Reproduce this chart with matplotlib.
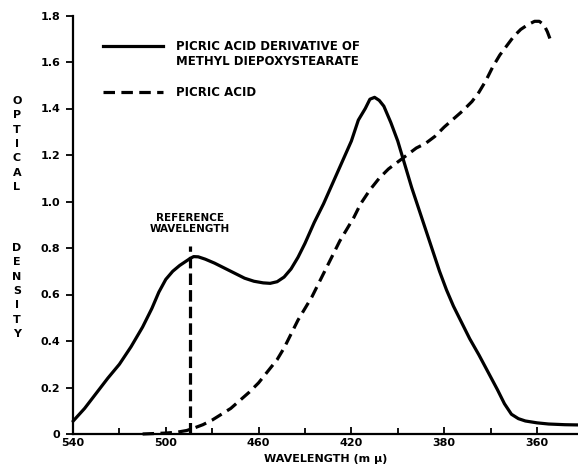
import numpy as np
import matplotlib
matplotlib.use("Agg")
import matplotlib.pyplot as plt
from matplotlib.ticker import FixedLocator, FuncFormatter

# chart positions along the wavelength axis (the axis is printed with 360 where 340 would fall)
deriv_wl = [540, 535, 530, 525, 520, 515, 510, 506, 503, 500, 497, 494, 491, 489.5, 488,
            486, 483, 479, 475, 470, 466, 462, 458, 455, 452, 449, 446, 443, 440, 436,
            432, 428, 424, 420, 417, 414, 412, 410, 408, 406, 403, 400, 397, 394, 391,
            388, 385, 382, 379, 376, 373, 369, 365, 361, 357, 354, 351, 348, 345, 340,
            335, 328, 322.3]
deriv_od = [0.055, 0.11, 0.175, 0.24, 0.30, 0.375, 0.46, 0.54, 0.61, 0.665, 0.70, 0.725,
            0.745, 0.755, 0.763, 0.762, 0.752, 0.735, 0.715, 0.69, 0.67, 0.657, 0.65,
            0.648, 0.655, 0.675, 0.71, 0.76, 0.82, 0.91, 0.99, 1.08, 1.17, 1.26, 1.35,
            1.40, 1.44, 1.448, 1.435, 1.41, 1.34, 1.26, 1.16, 1.06, 0.97, 0.88, 0.79,
            0.70, 0.62, 0.55, 0.49, 0.41, 0.34, 0.265, 0.19, 0.13, 0.085, 0.066, 0.056,
            0.048, 0.043, 0.040, 0.039]

picric_wl = [510, 505, 500, 495, 491, 488, 484, 480, 476, 472, 468, 464, 460, 456, 452,
             449, 446, 443, 440, 437, 434, 431, 428, 425, 422, 419, 416, 412, 408, 404,
             400, 396, 392, 388, 384, 380, 376, 372, 368, 365, 362, 359, 356, 353, 350,
             347, 344, 341, 339, 337, 335.5, 334]
picric_od = [0.0, 0.002, 0.004, 0.008, 0.015, 0.025, 0.04, 0.06, 0.085, 0.11, 0.145,
             0.18, 0.22, 0.27, 0.32, 0.37, 0.43, 0.49, 0.54, 0.59, 0.65, 0.71, 0.77,
             0.83, 0.88, 0.93, 0.99, 1.05, 1.10, 1.14, 1.17, 1.20, 1.23, 1.25, 1.28,
             1.32, 1.355, 1.39, 1.43, 1.47, 1.52, 1.58, 1.63, 1.67, 1.71, 1.74, 1.76,
             1.775, 1.775, 1.76, 1.73, 1.69]

ref_wl = 489.6
ref_top = 0.81

xtick_pos = [540, 500, 460, 420, 380, 340]
xtick_labels = ["540", "500", "460", "420", "380", "360"]
xminor_pos = [520, 480, 440, 400, 360]
yticks = [0, 0.2, 0.4, 0.6, 0.8, 1.0, 1.2, 1.4, 1.6, 1.8]

plt.rcParams['font.family'] = ['DejaVu Sans']
plt.rcParams['font.weight'] = 'bold'

fig = plt.figure(figsize=(5.78, 4.68), dpi=100)
ax = fig.add_axes([73/578, 34/468, 505/578, 418.5/468])

lw = 2.3
ax.plot(deriv_wl, deriv_od, color="black", lw=lw, solid_capstyle="round",
        solid_joinstyle="round", clip_on=False)
ax.plot(picric_wl, picric_od, color="black", lw=lw, dashes=(3.6, 2.0), clip_on=False)
ax.plot([ref_wl, ref_wl], [0, ref_top], color="black", lw=lw, dashes=(3.6, 1.6))

ax.set_xlim(540, 322.3)
ax.set_ylim(0, 1.8)

for s in ["top", "right"]:
    ax.spines[s].set_visible(False)
ax.spines["left"].set_linewidth(1.6)
ax.spines["bottom"].set_linewidth(1.6)

ax.xaxis.set_major_locator(FixedLocator(xtick_pos))
ax.xaxis.set_minor_locator(FixedLocator(xminor_pos))
ax.set_xticklabels(xtick_labels)
ax.yaxis.set_major_locator(FixedLocator(yticks))
ax.yaxis.set_major_formatter(FuncFormatter(lambda v, p: "0" if v == 0 else "%.1f" % v))

ax.tick_params(axis="x", which="both", direction="in", length=5, width=1.3, pad=3, labelsize=8)
ax.tick_params(axis="x", which="minor", length=4)
ax.tick_params(axis="y", direction="out", length=5, width=1.3, pad=4, labelsize=8)
for lab in ax.get_xticklabels() + ax.get_yticklabels():
    lab.set_fontweight("bold")

ax.set_xlabel("WAVELENGTH (m \u03bc)", fontsize=8, fontweight="bold", labelpad=4)

# vertical axis title, one letter per line
fig.text(17/578, 1 - 144/468, "\n".join("OPTICAL"), ha="center", va="center",
         fontsize=8, fontweight="bold", linespacing=1.55)
fig.text(17/578, 1 - 291/468, "\n".join("DENSITY"), ha="center", va="center",
         fontsize=8, fontweight="bold", linespacing=1.55)

ax.text(ref_wl, 0.905, "REFERENCE\nWAVELENGTH", ha="center", va="center",
        fontsize=7.5, fontweight="bold", linespacing=1.2)

# key
ax.plot([0.059, 0.178], [0.927, 0.927], transform=ax.transAxes, color="black", lw=lw)
ax.plot([0.059, 0.178], [0.817, 0.817], transform=ax.transAxes, color="black", lw=lw,
        dashes=(3.6, 2.0))
ax.text(0.204, 0.927, "PICRIC ACID DERIVATIVE OF", transform=ax.transAxes,
        va="center", fontsize=8.5, fontweight="bold")
ax.text(0.204, 0.889, "METHYL DIEPOXYSTEARATE", transform=ax.transAxes,
        va="center", fontsize=8.5, fontweight="bold")
ax.text(0.204, 0.817, "PICRIC ACID", transform=ax.transAxes,
        va="center", fontsize=8.5, fontweight="bold")

fig.savefig("out.png", dpi=100)
